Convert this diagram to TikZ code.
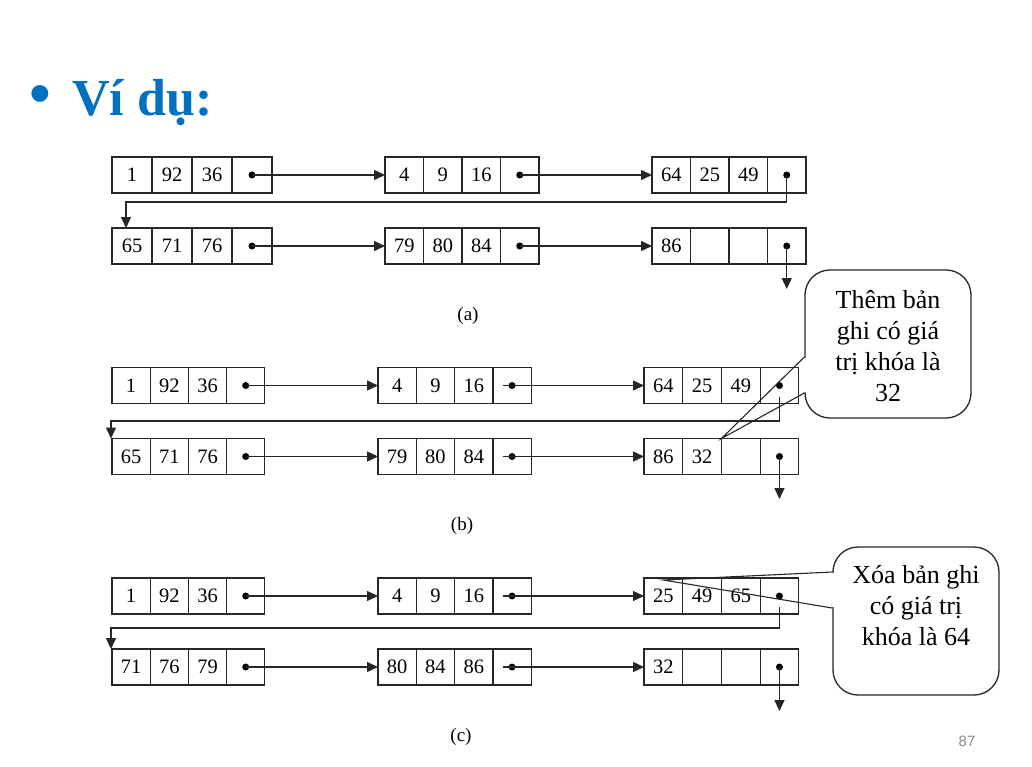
\documentclass[tikz,border=0pt]{standalone}
\usepackage{fontspec}
\setmainfont{Liberation Serif}
\newfontfamily\sansf{Liberation Sans}
\usetikzlibrary{arrows.meta,calc}
\definecolor{titleblue}{HTML}{0070C0}
\definecolor{pgnum}{HTML}{8A8A8A}
\tikzset{
  cell/.style={draw=black!85, line width=1.2pt, minimum height=36pt, inner sep=0pt, outer sep=0pt,
    font=\fontsize{20.5}{24}\selectfont},
  dotn/.style={circle, fill=black, inner sep=0pt, minimum size=7pt},
  arr/.style={-{Triangle[length=11pt,width=10pt]}, line width=1.4pt, draw=black!85},
  callout/.style={draw=black!85, line width=1.3pt, fill=white, rounded corners=25pt,
    minimum width=166pt, minimum height=148pt, inner sep=0pt},
  ctext/.style={align=center, font=\fontsize{26}{31}\selectfont, inner sep=0pt},
  wedge/.style={draw=black!85, line width=1.1pt},
  caption/.style={font=\fontsize{19}{22}\selectfont},
}
\newcommand\blk[7]{%
  \node[cell, minimum width=#4pt, anchor=west] (#1-1) at (#2,#3) {#5};
  \node[cell, minimum width=#4pt, anchor=west] (#1-2) at (#1-1.east) {#6};
  \node[cell, minimum width=#4pt, anchor=west] (#1-3) at (#1-2.east) {#7};
  \node[cell, minimum width=#4pt, anchor=west] (#1-4) at (#1-3.east) {};
  \node[dotn] (#1-d) at (#1-4.center) {};
}
\begin{document}
\begin{tikzpicture}[x=1pt,y=-1pt]
\useasboundingbox (0,0) rectangle (1032,766);
\fill[white] (0,0) rectangle (1032,766);

% title
\node[inner sep=0pt, text=titleblue, font=\sansf\fontsize{62}{66}\selectfont] (bul) at (40,100) {•};
\node[anchor=base west, inner sep=0pt, text=titleblue, font=\bfseries\fontsize{52}{60}\selectfont] (title) at (72,115) {Ví dụ:};

% ---------- (a)
\blk{a1}{112}{175}{40}{1}{92}{36}
\blk{a2}{385}{175}{38.5}{4}{9}{16}
\blk{a3}{652}{175}{38.5}{64}{25}{49}
\blk{a4}{112}{246}{40}{65}{71}{76}
\blk{a5}{385}{246}{38.5}{79}{80}{84}
\blk{a6}{652}{246}{38.5}{86}{}{}
\draw[arr] (a1-d.center) -- (a2-1.west);
\draw[arr] (a2-d.center) -- (a3-1.west);
\draw[arr] (a4-d.center) -- (a5-1.west);
\draw[arr] (a5-d.center) -- (a6-1.west);
\draw[arr] (a3-d.center) -- (a3-d.center |- 0,202) -| ([xshift=14pt]a4-1.north west);
\draw[arr] (a6-d.center) -- (a6-d.center |- 0,289);
\node[caption] (capa) at (468,316) {(a)};

% ---------- (b)
\blk{b1}{112}{385.5}{38.2}{1}{92}{36}
\blk{b2}{378}{385.5}{38.3}{4}{9}{16}
\blk{b3}{644}{385.5}{38.7}{64}{25}{49}
\blk{b4}{112}{456.5}{38.2}{65}{71}{76}
\blk{b5}{378}{456.5}{38.3}{79}{80}{84}
\blk{b6}{644}{456.5}{38.7}{86}{32}{}
\draw[arr] (b1-d.center) -- (b2-1.west);
\draw[arr] ([xshift=-9pt]b2-d.center) -- (b3-1.west);
\draw[arr] (b4-d.center) -- (b5-1.west);
\draw[arr] ([xshift=-9pt]b5-d.center) -- (b6-1.west);
\draw[arr] (b3-d.center |- 0,397) -- (b3-d.center |- 0,421) -| ([xshift=-1pt]b4-1.north west);
\draw[arr] (b6-d.center) -- (b6-d.center |- 0,499);
\node[caption] (capb) at (462,526) {(b)};

\node[callout] (cb) at (888,344) {};
\fill[white] ([xshift=-2pt]cb.west |- 0,358) rectangle ([xshift=2pt]cb.west |- 0,392);
\draw[wedge] (cb.west |- 0,357) -- (b6-2.north east) -- (cb.west |- 0,393);
\node[ctext] (cbt) at (888,346) {Thêm bản\\ghi có giá\\trị khóa là\\32};

% ---------- (c)
\blk{c1}{112}{596}{38.2}{1}{92}{36}
\blk{c2}{378}{596}{38.3}{4}{9}{16}
\blk{c3}{644}{596}{38.7}{25}{49}{65}
\blk{c4}{112}{667}{38.2}{71}{76}{79}
\blk{c5}{378}{667}{38.3}{80}{84}{86}
\blk{c6}{644}{667}{38.7}{32}{}{}
\draw[arr] (c1-d.center) -- (c2-1.west);
\draw[arr] ([xshift=-9pt]c2-d.center) -- (c3-1.west);
\draw[arr] (c4-d.center) -- (c5-1.west);
\draw[arr] ([xshift=-9pt]c5-d.center) -- (c6-1.west);
\draw[arr] (c3-d.center |- 0,607) -- (c3-d.center |- 0,628) -| ([xshift=-1pt]c4-1.north west);
\draw[arr] (c6-d.center) -- (c6-d.center |- 0,711);
\node[caption] (capc) at (461,737) {(c)};

\node[callout] (cc) at (916,621) {};
\fill[white] ([xshift=-2pt]cc.west |- 0,573) rectangle ([xshift=2pt]cc.west |- 0,607);
\draw[wedge] (cc.west |- 0,572) -- ([yshift=-2pt]c3-1.north) -- (cc.west |- 0,608);
\node[ctext] (cct) at (916,606) {Xóa bản ghi\\có giá trị\\khóa là 64};

% page number
\node[text=pgnum, font=\sansf\fontsize{15}{18}\selectfont] (pg) at (967,741) {87};
\end{tikzpicture}
\end{document}
